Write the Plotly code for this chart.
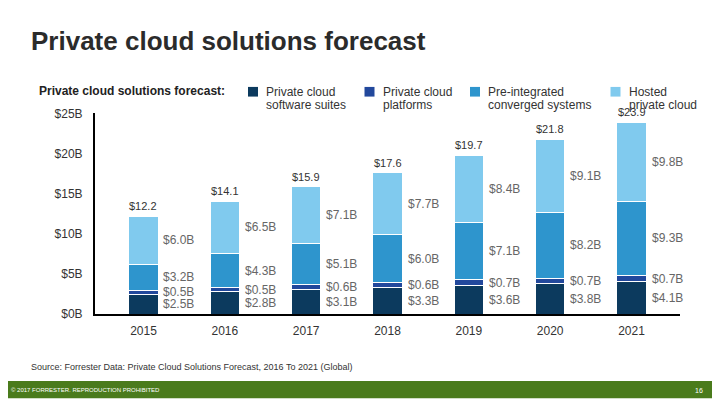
import plotly.graph_objects as go

years = ["2015", "2016", "2017", "2018", "2019", "2020", "2021"]
series_names = [["Private cloud", "software suites"], ["Private cloud", "platforms"],
                ["Pre-integrated", "converged systems"], ["Hosted", "private cloud"]]
software_suites = [2.5, 2.8, 3.1, 3.3, 3.6, 3.8, 4.1]
platforms = [0.5, 0.5, 0.6, 0.6, 0.7, 0.7, 0.7]
converged = [3.2, 4.3, 5.1, 6.0, 7.1, 8.2, 9.3]
hosted = [6.0, 6.5, 7.1, 7.7, 8.4, 9.1, 9.8]
totals = [12.2, 14.1, 15.9, 17.6, 19.7, 21.8, 23.9]
y_ticks = [0, 5, 10, 15, 20, 25]
y_tick_labels = ["$0B", "$5B", "$10B", "$15B", "$20B", "$25B"]

colors = ["#0c3a5e", "#22489c", "#2e95cd", "#80caee"]
series = [software_suites, platforms, converged, hosted]
FONT = "Liberation Sans, Arial"

W, H = 720, 405
OFF = 8  # page body margin offset


def px(x):
    return (x - OFF) / W


def py(y):
    return 1 - (y - OFF) / H


fig = go.Figure()
for name, vals, col in zip(series_names, series, colors):
    fig.add_trace(go.Bar(x=years, y=vals, name=" ".join(name), marker_color=col,
                         marker_line_color="white", marker_line_width=1,
                         width=0.363, showlegend=False, hoverinfo="skip"))

annotations = []
for i, yr in enumerate(years):
    base = 0
    for vals in series:
        v = vals[i]
        annotations.append(dict(x=i, y=base + v / 2, xref="x", yref="y",
                                text=f"${v:.1f}B", showarrow=False, xanchor="left",
                                yanchor="middle", xshift=18,
                                font=dict(family=FONT, size=12, color="#666666")))
        base += v
    annotations.append(dict(x=i, y=base, xref="x", yref="y", text=f"${totals[i]:.1f}",
                            showarrow=False, xanchor="center", yanchor="bottom", yshift=2,
                            font=dict(family=FONT, size=11, color="#333333")))

annotations.append(dict(x=px(29), y=py(35), xref="paper", yref="paper",
                        text="<b>Private cloud solutions forecast</b>", showarrow=False,
                        xanchor="left", yanchor="middle",
                        font=dict(family=FONT, size=26, color="#2b2b2b")))
annotations.append(dict(x=px(37), y=py(87), xref="paper", yref="paper",
                        text="<b>Private cloud solutions forecast:</b>", showarrow=False,
                        xanchor="left", yanchor="middle",
                        font=dict(family=FONT, size=12, color="#222222")))
shapes = []
leg_x = [248, 364.5, 470, 610.5]
for lx, name, col in zip(leg_x, series_names, colors):
    shapes.append(dict(type="rect", xref="paper", yref="paper",
                       x0=px(lx), x1=px(lx + 10), y0=py(92.5), y1=py(82.5),
                       fillcolor=col, line_width=0))
    for line, ly in zip(name, [87.3, 101.7]):
        annotations.append(dict(x=px(lx + 16), y=py(ly), xref="paper", yref="paper",
                                text=line, showarrow=False, xanchor="left", yanchor="middle",
                                font=dict(family=FONT, size=12, color="#333333")))

annotations.append(dict(x=px(29), y=py(373), xref="paper", yref="paper",
                        text="Source: Forrester Data: Private Cloud Solutions Forecast, 2016 To 2021 (Global)",
                        showarrow=False, xanchor="left", yanchor="middle",
                        font=dict(family=FONT, size=9, color="#333333")))
shapes.append(dict(type="rect", xref="paper", yref="paper", x0=0, x1=1,
                   y0=py(405), y1=py(387), fillcolor="#4a7b1c", line_width=0, layer="below"))
annotations.append(dict(x=px(9), y=py(396.5), xref="paper", yref="paper",
                        text="© 2017 FORRESTER. REPRODUCTION PROHIBITED", showarrow=False,
                        xanchor="left", yanchor="middle",
                        font=dict(family=FONT, size=6, color="white")))
annotations.append(dict(x=px(699), y=py(396.5), xref="paper", yref="paper",
                        text="16", showarrow=False, xanchor="center", yanchor="middle",
                        font=dict(family=FONT, size=7, color="white")))

fig.update_layout(
    barmode="stack",
    width=W, height=H,
    margin=dict(l=0, r=0, t=0, b=0),
    paper_bgcolor="white", plot_bgcolor="white",
    annotations=annotations, shapes=shapes,
    xaxis=dict(type="category", domain=[px(95), px(680)], range=[-0.596, 6.596],
               showgrid=False, showline=True, linecolor="black", linewidth=2,
               ticks="outside", ticklen=4, tickcolor="rgba(0,0,0,0)",
               tickfont=dict(family=FONT, size=12, color="#333333"),
               fixedrange=True),
    yaxis=dict(domain=[py(318), py(110)], range=[0, 25], tickvals=y_ticks,
               ticktext=y_tick_labels, showgrid=False, zeroline=False,
               showline=True, linecolor="black", linewidth=2, ticks="outside",
               ticklen=8, tickcolor="rgba(0,0,0,0)",
               tickfont=dict(family=FONT, size=12, color="#333333"),
               fixedrange=True),
)
fig.write_html("out.html")
